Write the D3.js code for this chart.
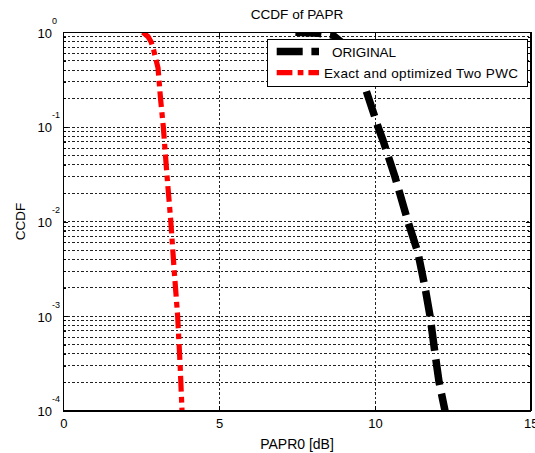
<!DOCTYPE html>
<html>
<head>
<meta charset="utf-8">
<script src="https://cdn.jsdelivr.net/npm/d3@7"></script>
<style>
  html, body { margin: 0; padding: 0; background: #fff; }
  svg { display: block; font-family: "Liberation Sans", Arial, sans-serif; }
  .axis path, .axis line { stroke: #000; stroke-width: 1; shape-rendering: crispEdges; }
  .axis text { fill: #000; font-size: 13px; font-family: "Liberation Sans", Arial, sans-serif; }
</style>
</head>
<body>
<svg id="chart" width="535" height="453"></svg>
<script>
// Axis ticks
const xTicks = [0, 5, 10, 15];
const yDecades = [1, 0.1, 0.01, 0.001, 0.0001];
const yDecadeExp = ["0", "-1", "-2", "-3", "-4"];

// ORIGINAL signal: PAPR0 [dB] vs CCDF
const origPapr = [7.45, 8.2, 8.65, 9.0, 9.3, 9.68, 10.0, 10.1, 10.26, 10.64, 11.06, 11.38, 11.61, 11.77, 11.93, 12.06, 12.25];
const origCcdf = [1.0, 0.975, 0.93, 0.75, 0.5, 0.264, 0.127, 0.1, 0.072, 0.03, 0.01, 0.0047, 0.002, 0.001, 0.0004, 0.0002, 0.0001];

// Exact and optimized Two PWC companding
const pwcPapr = [2.55, 2.72, 2.82, 2.9, 2.96, 3.04, 3.12, 3.21, 3.33, 3.45, 3.56, 3.67, 3.75, 3.81];
const pwcCcdf = [1.0, 0.9, 0.79, 0.65, 0.535, 0.42, 0.2, 0.1, 0.03, 0.01, 0.003, 0.001, 0.0003, 0.0001];

const legendLabels = ["ORIGINAL", "Exact and optimized Two PWC"];

const W = 535, H = 453;
const m = { left: 63.3, top: 32.3, right: 535 - 530.7, bottom: 453 - 410.7 };
const iw = W - m.left - m.right, ih = H - m.top - m.bottom;

const svg = d3.select("#chart");
const g = svg.append("g").attr("transform", `translate(${m.left},${m.top})`);

const x = d3.scaleLinear().domain([0, 15]).range([0, iw]);
const y = d3.scaleLog().domain([1e-4, 1]).range([ih, 0]);

// minor decade values 2..9 x 10^n
const yMinor = [];
yDecades.slice(1).forEach(d => { for (let k = 2; k <= 9; k++) yMinor.push(d * k); });
const yGridVals = yDecades.concat(yMinor);

// white axes background
g.append("rect").attr("width", iw).attr("height", ih).attr("fill", "#fff");

// dotted grid
const grid = g.append("g").attr("stroke", "#222").attr("stroke-width", 1)
  .attr("stroke-dasharray", "2.5,2").attr("shape-rendering", "crispEdges");
grid.selectAll("line.h").data(yGridVals.filter(v => v < 1 && v > 1e-4)).join("line")
  .attr("class", "h").attr("x1", 0).attr("x2", iw)
  .attr("y1", d => Math.round(y(d)) + 0.5).attr("y2", d => Math.round(y(d)) + 0.5);
grid.selectAll("line.v").data(xTicks.filter(v => v > 0 && v < 15)).join("line")
  .attr("class", "v").attr("y1", 0).attr("y2", ih)
  .attr("x1", d => Math.round(x(d)) + 0.5).attr("x2", d => Math.round(x(d)) + 0.5);

// curves
g.append("clipPath").attr("id", "plotClip").append("rect").attr("width", iw).attr("height", ih);
const line = d3.line().x(d => x(d[0])).y(d => y(d[1]));
const curves = g.append("g").attr("clip-path", "url(#plotClip)");

curves.append("path")
  .datum(d3.zip(origPapr, origCcdf))
  .attr("d", line).attr("fill", "none")
  .attr("stroke", "#000").attr("stroke-width", 7.5)
  .attr("stroke-dasharray", "26,8.7").attr("stroke-linejoin", "round");

curves.append("path")
  .datum(d3.zip(pwcPapr, pwcCcdf))
  .attr("d", line).attr("fill", "none")
  .attr("stroke", "#ff0000").attr("stroke-width", 5.2)
  .attr("stroke-dasharray", "15.7,5.3,5.7,5").attr("stroke-linejoin", "round");

// axes (ticks inward, box on)
const xAxisB = d3.axisBottom(x).tickValues(xTicks).tickSizeInner(-5).tickSizeOuter(0).tickPadding(8.3);
const xAxisT = d3.axisTop(x).tickValues(xTicks).tickSizeInner(-5).tickSizeOuter(0).tickFormat(() => "");
g.append("g").attr("class", "axis").attr("transform", `translate(0,${ih})`).call(xAxisB);
g.append("g").attr("class", "axis").call(xAxisT);

const yAxisL = d3.axisLeft(y).tickValues(yDecades).tickSizeInner(-5).tickSizeOuter(0);
const yAxisR = d3.axisRight(y).tickValues(yDecades).tickSizeInner(-5).tickSizeOuter(0).tickFormat(() => "");
const yMinL = d3.axisLeft(y).tickValues(yMinor).tickSizeInner(-3).tickSizeOuter(0).tickFormat(() => "");
const yMinR = d3.axisRight(y).tickValues(yMinor).tickSizeInner(-3).tickSizeOuter(0).tickFormat(() => "");

const yl = g.append("g").attr("class", "axis").call(yAxisL);
g.append("g").attr("class", "axis").call(yMinL).select(".domain").remove();
g.append("g").attr("class", "axis").attr("transform", `translate(${iw},0)`).call(yAxisR);
g.append("g").attr("class", "axis").attr("transform", `translate(${iw},0)`).call(yMinR).select(".domain").remove();

// power-of-ten labels
yl.selectAll(".tick text").each(function (d) {
  const t = d3.select(this).text(null)
    .attr("text-anchor", "start").attr("x", -25.8).attr("dy", 5);
  t.append("tspan").text("10");
  t.append("tspan").attr("dy", -14).attr("font-size", "9px").text(yDecadeExp[yDecades.indexOf(d)]);
});

// frame
g.append("rect").attr("width", iw).attr("height", ih).attr("fill", "none")
  .attr("stroke", "#000").attr("shape-rendering", "crispEdges");

// legend
const lg = svg.append("g").attr("transform", "translate(267,39)");
lg.append("rect").attr("x", 0.5).attr("y", 0.5).attr("width", 260).attr("height", 47)
  .attr("fill", "#fff").attr("stroke", "#000").attr("shape-rendering", "crispEdges");
const legendStyles = [
  { color: "#000", width: 7.5, dash: "26,8.7", y: 12.5, tx: 65, len: 64 },
  { color: "#ff0000", width: 5.2, dash: "15.7,5.3,5.7,5", y: 33.7, tx: 57, len: 194 }
];
legendStyles.forEach((s, i) => {
  lg.append("line").attr("x1", 9.7).attr("x2", 52).attr("y1", s.y).attr("y2", s.y)
    .attr("stroke", s.color).attr("stroke-width", s.width).attr("stroke-dasharray", s.dash);
  lg.append("text").attr("x", s.tx).attr("y", s.y + 5.5)
    .attr("font-size", "13.5px").attr("fill", "#000")
    .attr("textLength", s.len).attr("lengthAdjust", "spacing")
    .text(legendLabels[i]);
});

// title and axis labels
svg.append("text").attr("x", m.left + iw / 2).attr("y", 19).attr("text-anchor", "middle")
  .attr("font-size", "13.6px").attr("fill", "#000").text("CCDF of PAPR");
svg.append("text").attr("x", m.left + iw / 2).attr("y", 449).attr("text-anchor", "middle")
  .attr("font-size", "14px").attr("fill", "#000").text("PAPR0 [dB]");
svg.append("text").attr("transform", `translate(25,${m.top + ih / 2}) rotate(-90)`)
  .attr("text-anchor", "middle").attr("font-size", "13.5px").attr("fill", "#000").text("CCDF");
</script>
</body>
</html>
